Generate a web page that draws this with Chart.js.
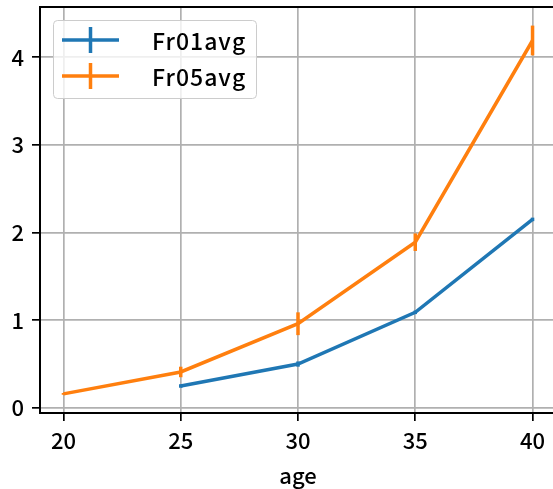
<!DOCTYPE html>
<html>
<head>
<meta charset="utf-8">
<script src="https://cdn.jsdelivr.net/npm/chart.js@4.4.1/dist/chart.umd.min.js"></script>
<style>
    html, body { margin: 0; padding: 0; background: #fff; overflow: hidden; }
    #wrap { width: 557px; height: 489px; }
</style>
</head>
<body>
<div id="wrap"><canvas id="chart1" width="557" height="489"></canvas></div>
<script>
const ages = [20, 25, 30, 35, 40];
const fr01avg = [null, 0.25, 0.50, 1.09, 2.15];
const fr01err = [null, 0.02, 0.03, 0.02, 0.02];
const fr05avg = [0.16, 0.41, 0.96, 1.89, 4.19];
const fr05err = [0.01, 0.06, 0.13, 0.10, 0.17];
const xTicks = [20, 25, 30, 35, 40];
const yTicks = [0, 1, 2, 3, 4];

const fontName = "'Noto Sans CJK JP', 'Noto Sans', sans-serif";

function toPoints(vals, errs) {
    let pts = [];
    vals.forEach((v, i) => {
        if (v !== null) pts.push({ x: ages[i], y: v, err: errs[i] });
    });
    return pts;
}

//error bars + top/right spines + legend
const extras = {
    id: 'extras',
    afterDatasetsDraw(chart) {
        const c = chart.ctx;
        const xs = chart.scales.x;
        const ys = chart.scales.y;
        chart.data.datasets.forEach((ds) => {
            c.save();
            c.strokeStyle = ds.borderColor;
            c.lineWidth = 3.5;
            ds.data.forEach(p => {
                const px = xs.getPixelForValue(p.x);
                c.beginPath();
                c.moveTo(px, ys.getPixelForValue(p.y - p.err));
                c.lineTo(px, ys.getPixelForValue(p.y + p.err));
                c.stroke();
            });
            c.restore();
        });
    },
    afterDraw(chart) {
        const c = chart.ctx;
        const a = chart.chartArea;
        c.save();
        c.strokeStyle = 'black';
        c.lineWidth = 2;
        c.beginPath();
        c.moveTo(a.left, a.top);
        c.lineTo(a.right, a.top);
        c.lineTo(a.right, a.bottom);
        c.stroke();

        // legend box
        const bx = 53.5, by = 20.5, bw = 203, bh = 78, r = 4;
        c.beginPath();
        c.roundRect(bx, by, bw, bh, r);
        c.fillStyle = 'rgba(255,255,255,0.8)';
        c.fill();
        c.strokeStyle = '#cccccc';
        c.lineWidth = 1;
        c.stroke();

        c.font = '500 23px ' + fontName;
        c.letterSpacing = '1px';
        c.textBaseline = 'middle';
        c.textAlign = 'left';
        chart.data.datasets.forEach((ds, i) => {
            const ly = 40 + i * 36;
            c.strokeStyle = ds.borderColor;
            c.lineWidth = 3.5;
            c.beginPath();
            c.moveTo(62, ly);
            c.lineTo(119, ly);
            c.moveTo(90.5, ly - 13);
            c.lineTo(90.5, ly + 13);
            c.stroke();
            c.fillStyle = '#000';
            c.fillText(ds.label, 152, ly + 1);
        });
        c.restore();
    }
};

function makeChart() {
    const ctx = document.getElementById('chart1');
    new Chart(ctx, {
        type: 'line',
        data: {
            datasets: [{
                label: 'Fr01avg',
                data: toPoints(fr01avg, fr01err),
                borderColor: '#1f77b4',
                backgroundColor: '#1f77b4',
                borderWidth: 3.5,
                pointRadius: 0,
                tension: 0
            }, {
                label: 'Fr05avg',
                data: toPoints(fr05avg, fr05err),
                borderColor: '#ff7f0e',
                backgroundColor: '#ff7f0e',
                borderWidth: 3.5,
                pointRadius: 0,
                tension: 0
            }]
        },
        options: {
            responsive: false,
            animation: false,
            events: [],
            layout: { padding: { top: 7, right: 1, left: 0, bottom: 0 } },
            plugins: {
                legend: { display: false },
                tooltip: { enabled: false }
            },
            scales: {
                x: {
                    type: 'linear',
                    min: 19,
                    max: 41,
                    afterBuildTicks: (s) => { s.ticks = xTicks.map(v => ({ value: v })); },
                    afterFit: (s) => { s.height = 76; s.paddingLeft = 0; s.paddingRight = 0; },
                    grid: { color: '#b0b0b0', lineWidth: 1.7, tickColor: 'black', tickLength: 8, tickWidth: 1.7 },
                    border: { color: 'black', width: 2 },
                    ticks: { color: '#000', font: { family: fontName, size: 22, weight: 500 }, padding: 6, maxRotation: 0 },
                    title: { display: true, text: 'age', color: '#000', font: { family: fontName, size: 22, weight: 500 }, padding: { top: 0, bottom: 0 } }
                },
                y: {
                    type: 'linear',
                    min: -0.058,
                    max: 4.572,
                    afterBuildTicks: (s) => { s.ticks = yTicks.map(v => ({ value: v })); },
                    afterFit: (s) => { s.width = 40; s.paddingTop = 0; s.paddingBottom = 0; },
                    grid: { color: '#b0b0b0', lineWidth: 1.7, tickColor: 'black', tickLength: 8, tickWidth: 1.7 },
                    border: { color: 'black', width: 2 },
                    ticks: { color: '#000', font: { family: fontName, size: 22, weight: 500 }, padding: 8 }
                }
            }
        },
        plugins: [extras]
    });
}

document.fonts.load("500 22px 'Noto Sans CJK JP'").then(makeChart, makeChart);
</script>
</body>
</html>
